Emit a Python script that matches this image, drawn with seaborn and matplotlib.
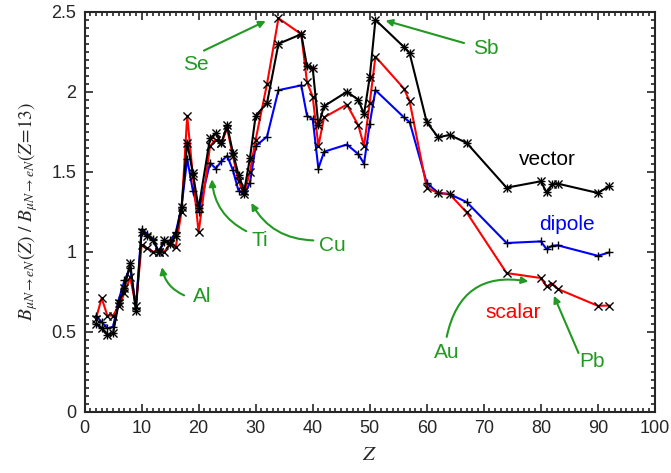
import matplotlib
matplotlib.use("Agg")
import matplotlib.pyplot as plt
from matplotlib.ticker import MultipleLocator, FuncFormatter
import seaborn as sns
import pandas as pd

# Z of the nuclei
z_vals = [2, 3, 4, 5, 6, 7, 8, 9, 10, 11, 12, 13, 14, 15, 16, 17, 18, 19, 20,
          22, 23, 24, 25, 26, 27, 28, 29, 30, 32, 34, 38, 39, 40, 41, 42, 46,
          48, 49, 50, 51, 56, 57, 60, 62, 64, 67, 74, 80, 81, 82, 83, 90, 92]

vector = [0.55, 0.52, 0.48, 0.49, 0.68, 0.77, 0.93, 0.63, 1.12, 1.10, 1.07, 1.00,
          1.07, 1.05, 1.10, 1.28, 1.68, 1.49, 1.27, 1.71, 1.74, 1.68, 1.79, 1.62,
          1.48, 1.38, 1.585, 1.85, 1.93, 2.30, 2.36, 2.16, 2.15, 1.79, 1.91, 2.00,
          1.95, 1.86, 2.09, 2.45, 2.28, 2.24, 1.81, 1.715, 1.73, 1.68, 1.40, 1.44,
          1.37, 1.42, 1.425, 1.367, 1.41]

scalar = [0.58, 0.71, 0.60, 0.60, 0.66, 0.74, 0.84, 0.66, 1.04, 1.02, 1.00, 1.00,
          1.00, 1.05, 1.03, 1.25, 1.85, 1.47, 1.12, 1.66, 1.70, 1.68, 1.77, 1.60,
          1.44, 1.36, 1.50, 1.70, 2.05, 2.46, 2.36, 2.06, 1.97, 1.66, 1.84, 1.92,
          1.79, 1.66, 1.93, 2.22, 2.02, 1.94, 1.40, 1.367, 1.36, 1.245, 0.866,
          0.835, 0.782, 0.80, 0.766, 0.661, 0.663]

dipole = [0.60, 0.56, 0.52, 0.53, 0.70, 0.82, 0.90, 0.65, 1.14, 1.11, 1.08, 1.00,
          1.06, 1.07, 1.12, 1.28, 1.58, 1.38, 1.25, 1.555, 1.52, 1.565, 1.60, 1.51,
          1.38, 1.36, 1.43, 1.66, 1.72, 2.01, 2.04, 1.85, 1.83, 1.52, 1.625, 1.67,
          1.61, 1.55, 1.80, 2.01, 1.84, 1.81, 1.43, 1.367, 1.36, 1.31, 1.054,
          1.064, 1.016, 1.037, 1.039, 0.974, 0.995]

df = pd.DataFrame({"Z": z_vals, "vector": vector, "scalar": scalar, "dipole": dipole})

sns.set_style("ticks")
plt.rcParams["font.family"] = ["Liberation Sans", "DejaVu Sans"]
plt.rcParams["mathtext.fontset"] = "stix"

fig = plt.figure(figsize=(6.71, 4.73), dpi=100)
ax = fig.add_axes([0.126, 0.13, 0.85, 0.845])

# lines
for col, c in [("dipole", "blue"), ("scalar", "red"), ("vector", "black")]:
    sns.lineplot(data=df, x="Z", y=col, color=c, lw=1.5, ax=ax,
                 estimator=None, sort=False)

# point markers (gnuplot style: +, x, and both)
ms = 34
sns.scatterplot(data=df, x="Z", y="dipole", marker="+", color="black", s=ms, lw=1, ax=ax, zorder=5)
sns.scatterplot(data=df, x="Z", y="scalar", marker="x", color="black", s=ms, lw=1, ax=ax, zorder=5)
sns.scatterplot(data=df, x="Z", y="vector", marker="x", color="black", s=ms, lw=1, ax=ax, zorder=6)
sns.scatterplot(data=df, x="Z", y="vector", marker="+", color="black", s=ms, lw=1, ax=ax, zorder=6)

ax.set_xlim(0, 100)
ax.set_ylim(0, 2.5)
ax.xaxis.set_major_locator(MultipleLocator(10))
ax.xaxis.set_minor_locator(MultipleLocator(1))
ax.yaxis.set_major_locator(MultipleLocator(0.5))
ax.yaxis.set_minor_locator(MultipleLocator(0.05))
ax.yaxis.set_major_formatter(FuncFormatter(lambda v, p: f"{v:g}"))
ax.tick_params(which="both", direction="in", top=True, right=True, labelsize=13, width=1.2)
ax.tick_params(which="major", length=6, pad=6)
ax.tick_params(which="minor", length=3)
for s in ax.spines.values():
    s.set_linewidth(1.5)

ax.set_xlabel("$Z$", fontsize=15, labelpad=6)
ax.set_ylabel(r"$B_{\mu N\rightarrow eN}(Z)\ /\ B_{\mu N\rightarrow eN}(Z\!=\!13)$", fontsize=14, labelpad=8)

# series labels
ax.text(81.2, 1.575, "vector", color="black", fontsize=15, ha="center", va="center")
ax.text(84.5, 1.17, "dipole", color="blue", fontsize=15, ha="center", va="center")
ax.text(75.2, 0.62, "scalar", color="red", fontsize=15, ha="center", va="center")

# element annotations
green = "#229922"
def note(label, txt_xy, tail, tip, rad):
    ax.text(txt_xy[0], txt_xy[1], label, color=green, fontsize=15, ha="center", va="center")
    ax.annotate("", xy=tip, xytext=tail,
                arrowprops=dict(arrowstyle="-|>", color=green, lw=1.5,
                                mutation_scale=10,
                                connectionstyle=f"arc3,rad={rad}"))

note("Se", (19.5, 2.17), (20.5, 2.25), (32.2, 2.45), 0)
note("Sb", (70.4, 2.27), (67.0, 2.30), (52.3, 2.45), 0)
note("Ti", (30.8, 1.07), (28.8, 1.12), (22.3, 1.47), -0.3)
note("Cu", (43.5, 1.04), (40.6, 1.07), (29.0, 1.32), -0.3)
note("Al", (20.6, 0.72), (17.9, 0.72), (13.5, 0.92), -0.3)
note("Au", (63.5, 0.37), (63.4, 0.45), (78.3, 0.81), -0.5)
note("Pb", (88.9, 0.31), (86.8, 0.35), (82.1, 0.74), 0)

fig.savefig("out.png", dpi=100)
